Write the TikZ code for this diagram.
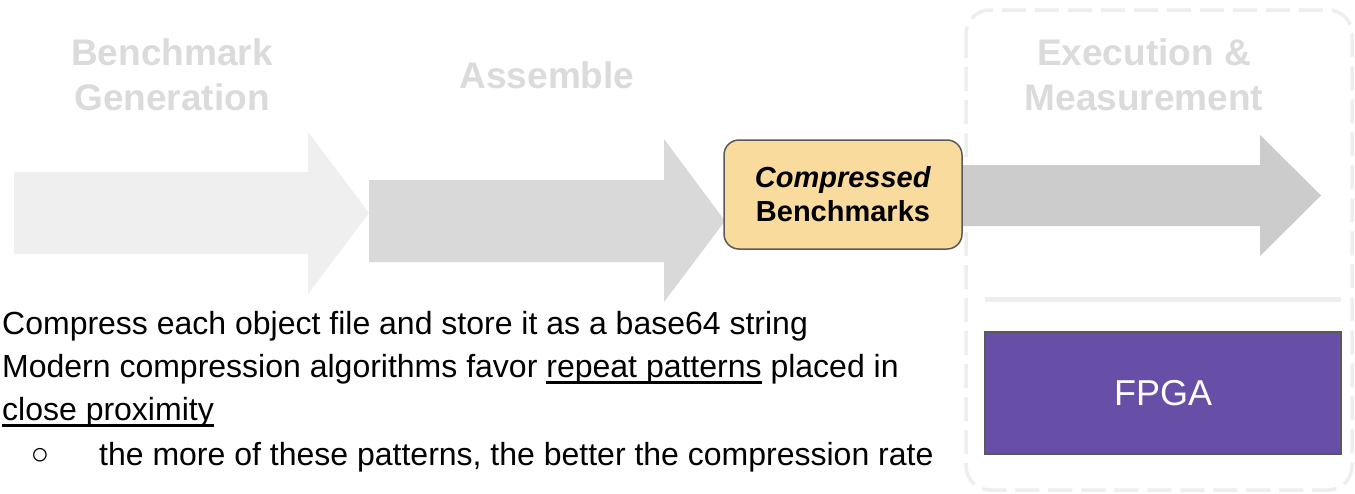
\documentclass[tikz,border=0pt]{standalone}
\usepackage{fontspec}
\setmainfont{Liberation Sans}

% underline drawn as a rule below the baseline
\newsavebox\ulinebox
\newcommand\ulinetext[1]{\sbox\ulinebox{#1}\rlap{\rule[-6.5pt]{\wd\ulinebox}{2.5pt}}\usebox\ulinebox}

\definecolor{arrowA}{HTML}{EFEFEF}
\definecolor{arrowB}{HTML}{D9D9D9}
\definecolor{arrowC}{HTML}{CCCCCC}
\definecolor{titlegray}{HTML}{DBDBDB}
\definecolor{framegray}{HTML}{EEEEEE}
\definecolor{boxtan}{HTML}{F9DB9E}
\definecolor{fpgapurple}{HTML}{674EA7}
\definecolor{edgegray}{HTML}{595959}

\begin{document}
\begin{tikzpicture}[x=1pt,y=-1pt,
  stagetitle/.style={font=\fontsize{37}{45}\selectfont\bfseries, text=titlegray, inner sep=0pt, anchor=base},
  bodyline/.style={font=\fontsize{32}{43}\selectfont, inner sep=0pt, anchor=base west},
  artifact/.style={draw=edgegray, line width=1.5pt, fill=boxtan, rounded corners=15pt,
    minimum width=238pt, minimum height=109pt, align=center,
    font=\fontsize{29}{34}\selectfont\bfseries, inner sep=0pt},
  device/.style={draw=edgegray, line width=1.5pt, fill=fpgapurple, text=white,
    minimum width=356pt, minimum height=122pt, font=\fontsize{36}{40}\selectfont, inner sep=0pt}
]
\useasboundingbox (0,0) rectangle (1355,493);
\fill[white] (0,0) rectangle (1355,493);

% pipeline block arrows
\fill[arrowA] (14,172) -- (308,172) -- (308,132) -- (369,213) -- (308,294) -- (308,254) -- (14,254) -- cycle;
\fill[arrowB] (369,180) -- (664,180) -- (664,139) -- (725,221) -- (664,302) -- (664,262) -- (369,262) -- cycle;

% execution stage frame
\draw[framegray, line width=3.5pt, dash pattern=on 24pt off 9pt, rounded corners=24pt]
  (966,10) rectangle (1352,490);
\fill[arrowC] (962,165) -- (1260,165) -- (1260,135) -- (1321,195.5) -- (1260,256) -- (1260,226) -- (962,226) -- cycle;
\draw[framegray, line width=5pt] (985,299) -- (1341,299);

% stage titles
\node[stagetitle] (gen1) at (172,65) {Benchmark};
\node[stagetitle] (gen2) at (172,110) {Generation};
\node[stagetitle] (asm) at (547,88) {Assemble};
\node[stagetitle] (exe1) at (1144,65) {Execution \&};
\node[stagetitle] (exe2) at (1144,110) {Measurement};

% boxes
\node[artifact] (cb) at (843,194.5) {\textit{Compressed}\\Benchmarks};
\node[device] (fpga) at (1163,393) {FPGA};

% notes
\node[bodyline] (t1) at (2,334) {Compress each object file and store it as a base64 string};
\node[bodyline] (t2) at (2,377) {Modern compression algorithms favor \ulinetext{repeat patterns} placed in};
\node[bodyline] (t3) at (2,420) {\ulinetext{close proximity}};
\node[font=\fontsize{31}{33}\selectfont, inner sep=0pt] (bul) at (40,456) {○};
\node[bodyline] (t4) at (99,465) {the more of these patterns, the better the compression rate};
\end{tikzpicture}
\end{document}
